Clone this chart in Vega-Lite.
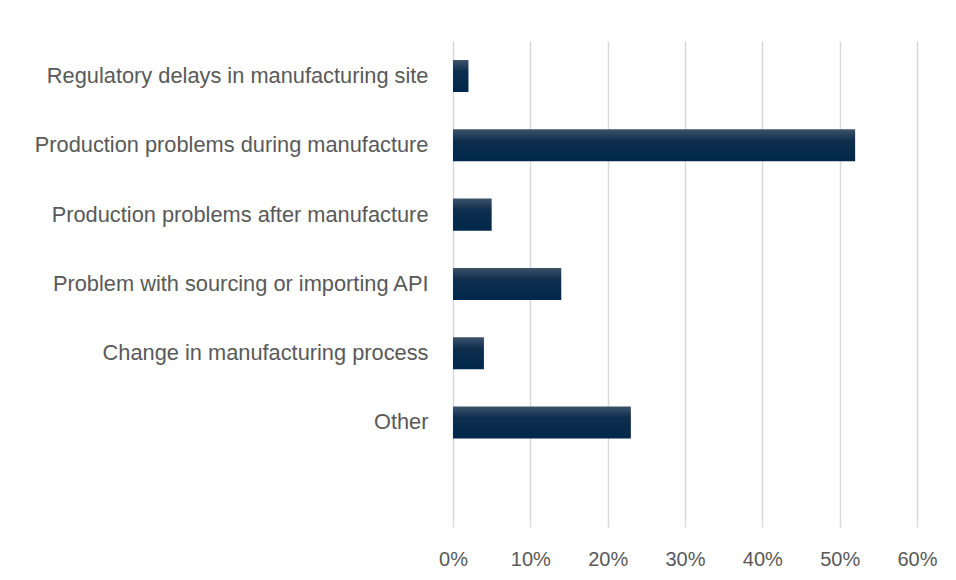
{
  "$schema": "https://vega.github.io/schema/vega-lite/v6.json",
  "autosize": "none",
  "width": 464,
  "height": 486,
  "padding": {"left": 453, "top": 41, "right": 39, "bottom": 53},
  "background": "white",
  "config": {"view": {"stroke": null}, "font": "Liberation Sans"},
  "data": {
    "values": [
      {"reason": "Regulatory delays in manufacturing site", "share": 0.02},
      {"reason": "Production problems during manufacture", "share": 0.52},
      {"reason": "Production problems after manufacture", "share": 0.05},
      {"reason": "Problem with sourcing or importing API", "share": 0.14},
      {"reason": "Change in manufacturing process", "share": 0.04},
      {"reason": "Other", "share": 0.23}
    ]
  },
  "mark": {
    "type": "bar",
    "color": {
      "gradient": "linear",
      "x1": 0, "y1": 0, "x2": 0, "y2": 1,
      "stops": [
        {"offset": 0, "color": "#3e536b"},
        {"offset": 0.35, "color": "#0f2e4e"},
        {"offset": 1, "color": "#00284a"}
      ]
    }
  },
  "encoding": {
    "y": {
      "field": "reason",
      "type": "nominal",
      "sort": null,
      "scale": {"paddingInner": 0.538, "paddingOuter": 0.776, "align": 0.177},
      "axis": {
        "title": null,
        "domain": false,
        "ticks": false,
        "grid": false,
        "labelPadding": 25,
        "labelFontSize": 21.8,
        "labelColor": "#595959",
        "labelLimit": 500
      }
    },
    "x": {
      "field": "share",
      "type": "quantitative",
      "scale": {"domain": [0, 0.6], "nice": false},
      "axis": {
        "title": null,
        "values": [0, 0.1, 0.2, 0.3, 0.4, 0.5, 0.6],
        "format": ".0%",
        "domain": false,
        "ticks": false,
        "grid": true,
        "gridColor": "#d9d9d9",
        "gridWidth": 1.5,
        "labelFlush": false,
        "labelPadding": 22,
        "labelFontSize": 20,
        "labelColor": "#595959"
      }
    }
  }
}
